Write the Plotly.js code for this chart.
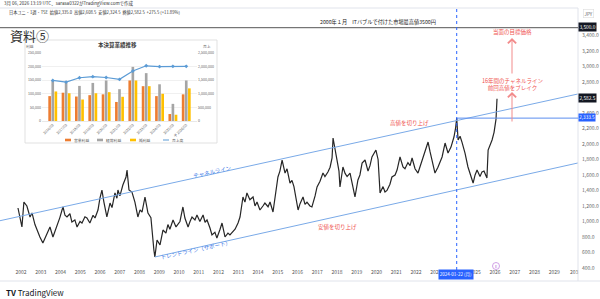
<!DOCTYPE html>
<html><head><meta charset="utf-8">
<script src="https://cdn.plot.ly/plotly-3.0.1.min.js"></script>
<style>html,body{margin:0;padding:0;background:#fff}#c{width:600px;height:299px}</style>
</head><body><div id="c"></div>
<script>
// ---- main price series (decimal year, price JPY) ----
const priceYears = [2001.85,2002.05,2002.15,2002.30,2002.46,2002.56,2002.71,2002.81,2002.96,2003.11,2003.32,2003.47,2003.62,2003.82,2003.97,2004.08,2004.13,2004.23,2004.33,2004.48,2004.58,2004.73,2004.84,2004.99,2005.09,2005.24,2005.34,2005.49,2005.65,2005.75,2005.90,2006.00,2006.10,2006.20,2006.35,2006.51,2006.61,2006.76,2006.86,2006.91,2007.01,2007.16,2007.32,2007.37,2007.47,2007.62,2007.77,2007.92,2008.03,2008.13,2008.28,2008.43,2008.58,2008.73,2008.78,2008.89,2009.04,2009.19,2009.34,2009.44,2009.54,2009.70,2009.85,2010.05,2010.20,2010.30,2010.46,2010.56,2010.66,2010.81,2010.91,2011.06,2011.22,2011.32,2011.42,2011.57,2011.67,2011.82,2011.92,2012.08,2012.18,2012.33,2012.48,2012.58,2012.73,2012.84,2012.99,2013.09,2013.24,2013.34,2013.44,2013.59,2013.75,2013.85,2013.95,2014.10,2014.25,2014.35,2014.51,2014.61,2014.76,2014.86,2015.01,2015.11,2015.22,2015.37,2015.47,2015.62,2015.72,2015.82,2015.92,2016.03,2016.13,2016.28,2016.38,2016.48,2016.63,2016.73,2016.89,2016.99,2017.14,2017.29,2017.39,2017.54,2017.65,2017.75,2017.80,2017.90,2018.00,2018.10,2018.15,2018.30,2018.41,2018.51,2018.66,2018.76,2018.91,2019.06,2019.16,2019.27,2019.42,2019.57,2019.67,2019.77,2019.87,2019.97,2020.08,2020.18,2020.33,2020.43,2020.53,2020.68,2020.78,2020.94,2021.04,2021.19,2021.34,2021.44,2021.59,2021.70,2021.80,2021.95,2022.10,2022.20,2022.30,2022.46,2022.61,2022.71,2022.81,2022.96,2023.11,2023.22,2023.32,2023.47,2023.62,2023.77,2023.92,2024.00,2024.06,2024.13,2024.23,2024.33,2024.48,2024.63,2024.73,2024.84,2024.89,2024.99,2025.09,2025.24,2025.34,2025.44,2025.59,2025.65,2025.75,2025.85,2025.95,2026.00,2026.05,2026.10];
const prices = [1174,929,1251,1200,1058,1110,960,890,800,722,851,929,800,929,1050,1148,1187,1080,1058,1100,993,1020,929,1000,980,1060,1045,980,1080,1045,1148,1300,1406,1250,1058,1238,1180,1368,1300,1406,1330,1471,1574,1664,1406,1380,1251,1058,1150,1120,1316,1109,1050,632,542,761,697,890,850,960,900,1019,930,1000,1187,1045,929,1000,1058,1020,1084,1000,1084,990,1019,916,826,860,787,900,980,800,850,826,870,900,980,1058,1316,1250,1368,1280,1316,1200,1251,1148,1200,1238,1190,1251,1122,1316,1574,1650,1793,1625,1680,1496,1530,1450,1300,1148,1230,1316,1220,1250,1200,1187,1330,1445,1520,1625,1580,1638,1700,1819,2077,1950,1793,1650,1445,1703,1620,1580,1625,1500,1316,1535,1600,1754,1793,1650,1720,1832,1880,1922,1800,1368,1450,1380,1400,1480,1574,1600,1664,1832,1703,1680,1760,1720,1819,1680,1625,1700,1780,1922,2025,1900,1793,1625,1700,1760,1832,2012,1883,1960,2090,2200,2333.5,2051,2100,2020,1883,1703,1620,1535,1496,1600,1664,1580,1640,1650,1560,1922,1980,2051,2150,2219,2320,2582.5];

// channel / trend lines (endpoints)
const channelX = [2000.94, 2030.2], channelY = [1010, 2645];
const trendX = [2008.78, 2030.2], trendY = [542, 1755];
const prevHigh = 2333.5, prevHighYear = 2024.06, bubbleHigh = 3500, lastClose = 2582.5;

const yearTicks = [2002,2003,2004,2005,2006,2007,2008,2009,2010,2011,2012,2013,2014,2015,2016,2017,2018,2019,2020,2021,2022,2023,2025,2026,2027,2028,2029,2030];
const yearLabels = ['2002','2003','2004','2005','2006','2007','2008','2009','2010','2011','2012','2013','2014','2015','2016','2017','2018','2019','2020','2021','2022','2023','2025','2026','2027','2028','2029','203'];
const priceTicks = [400,600,800,1000,1200,1400,1600,1800,2000,2200,2400,2800,3000,3200,3400];

// ---- inset (本決算業績推移) ----
const fyLabels = ['2016/03','2017/03','2018/03','2019/03','2020/03','2021/03','2022/03','2023/03','2024/03','2025/03','予 2026/03'];
const opProfit = [91500,104000,90000,95000,98000,70000,149000,128000,91500,25600,98000];
const ordProfit = [149000,140000,129000,140000,149000,117000,199000,176000,135000,63000,149000];
const netProfit = [108600,102000,79000,102000,106000,89000,149000,128000,100000,23000,120000];
const sales = [1490000,1430000,1590000,1630000,1600000,1530000,1840000,2030000,2000000,2010000,2010000];

const W=600,H=299;
const px=x=>x/W, py=y=>1-y/H;
const FONT='"Noto Sans CJK JP","Noto Sans",sans-serif';

const traces = [
 {type:'scatter',mode:'lines',x:priceYears,y:prices,line:{color:'#262626',width:1.2},xaxis:'x',yaxis:'y',showlegend:false,hoverinfo:'skip'},
 {type:'scatter',mode:'lines',x:channelX,y:channelY,line:{color:'#7aaae8',width:1},showlegend:false,hoverinfo:'skip'},
 {type:'scatter',mode:'lines',x:trendX,y:trendY,line:{color:'#7aaae8',width:1},showlegend:false,hoverinfo:'skip'},
 {type:'bar',x:fyLabels,y:opProfit,name:'営業利益',marker:{color:'#ED7D31'},xaxis:'x2',yaxis:'y2',showlegend:false},
 {type:'bar',x:fyLabels,y:ordProfit,name:'経常利益',marker:{color:'#A5A5A5'},xaxis:'x2',yaxis:'y2',showlegend:false},
 {type:'bar',x:fyLabels,y:netProfit,name:'純利益',marker:{color:'#FFC000'},xaxis:'x2',yaxis:'y2',showlegend:false},
 {type:'scatter',mode:'lines+markers',x:fyLabels,y:sales,name:'売上高',line:{color:'#5B9BD5',width:1.2},marker:{color:'#5B9BD5',size:3,symbol:'diamond'},xaxis:'x2',yaxis:'y3',showlegend:false}
];

const ann = [];
function t(x,y,text,size,color,opts){ann.push(Object.assign({xref:'paper',yref:'paper',x:px(x),y:py(y),text:text,showarrow:false,font:{size:size,color:color,family:FONT},xanchor:'center',yanchor:'middle'},opts||{}));}
t(2,4,'3月 06, 2026 13:19 UTC、sarasa0322がTradingView.comで作成',4.5,'#333',{xanchor:'left'});
t(7,13,'日本ユニ・1週・TSE  始値2,335.0  高値2,608.5  安値2,324.5  終値2,582.5  +275.5 (+11.89%)',4.2,'#333',{xanchor:'left'});
t(8,35,'資料⑤',13,'#333',{xanchor:'left'});
t(378,22,'2000年１月　ITバブルで付けた市場最高値3500円',5.2,'#222');
t(512,32,'当面の目標価格',5.5,'#ef5350');
t(513,84,'16年間のチャネルライン<br>前回高値をブレイク',5.5,'#ef5350');
t(409,123,'高値を切り上げ',5.5,'#ef5350');
t(337,227,'安値を切り上げ',5.5,'#ef5350');
t(212,172,'チャネルライン',5.5,'#3b78e7',{textangle:-12});
t(196,250,'トレンドライン（サポート）',5.5,'#3b78e7',{textangle:-12});
t(588,14,'JPY',4.5,'#555',{bordercolor:'#ddd',borderwidth:0.6,borderpad:1});
// axis price labels
t(578,27,'3,500.0',4.8,'#fff',{xanchor:'left',bgcolor:'#131722',borderpad:0.4});
t(578,98,'2,582.5',4.8,'#fff',{xanchor:'left',bgcolor:'#131722',borderpad:0.4});
t(578,118,'2,333.5',4.6,'#fff',{xanchor:'left',bgcolor:'#2962FF',borderpad:0.3});
t(456,274,'2024-01-22 (月)',4.5,'#fff',{bgcolor:'#2962FF',borderpad:0.8});
t(496,266,'E',4,'#b45fd6');
t(4,292,'<b>TV</b> TradingView',8,'#131722',{xanchor:'left'});
// inset texts
t(117,45,'<b>本決算業績推移</b>',5.5,'#404040');
t(30,46,'利益',3.8,'#666');
t(207,46,'売上',3.8,'#666');
// inset legend
const leg=[['営業利益','#ED7D31',65],['経常利益','#A5A5A5',97],['純利益','#FFC000',130],['売上高','#5B9BD5',163]];
leg.forEach(l=>t(l[2]+7,140,l[0],3.8,'#555',{xanchor:'left'}));
// arrows
ann.push({xref:'paper',yref:'paper',x:px(512),y:py(38),ax:0,ay:37,text:'',showarrow:true,arrowhead:4,arrowsize:1.6,arrowwidth:1,arrowcolor:'#f28b8b'});
ann.push({xref:'paper',yref:'paper',x:px(512),y:py(92),ax:0,ay:31,text:'',showarrow:true,arrowhead:4,arrowsize:1.6,arrowwidth:1,arrowcolor:'#f28b8b'});

const shapes = [
 {type:'rect',xref:'paper',yref:'paper',x0:px(25),x1:px(217),y0:py(143),y1:py(40),fillcolor:'#fff',line:{color:'#d9d9d9',width:0.8},layer:'below'},
 {type:'line',xref:'paper',yref:'paper',x0:0,x1:px(578),y0:py(8),y1:py(8),line:{color:'#e0e3eb',width:1}},
 {type:'line',xref:'paper',yref:'paper',x0:0,x1:px(600),y0:py(281),y1:py(281),line:{color:'#e0e3eb',width:1}},
 {type:'line',xref:'paper',yref:'paper',x0:px(578),x1:px(578),y0:py(281),y1:py(8),line:{color:'#e0e3eb',width:1}},
 {type:'line',xref:'paper',yref:'y',x0:0,x1:px(578),y0:bubbleHigh,y1:bubbleHigh,line:{color:'#555',width:1}},
 {type:'line',xref:'x',yref:'y',x0:prevHighYear,x1:2030.2,y0:prevHigh,y1:prevHigh,line:{color:'#5b8def',width:1}},
 {type:'line',xref:'x',yref:'paper',x0:prevHighYear,x1:prevHighYear,y0:py(270),y1:py(8),line:{color:'#2962FF',width:1,dash:'dot'}},
 {type:'circle',xref:'paper',yref:'paper',x0:px(492.5),x1:px(499.5),y0:py(269.5),y1:py(262.5),line:{color:'#c58ae0',width:0.8},fillcolor:'rgba(0,0,0,0)'}
];
leg.forEach((l,i)=>{
 if(i<3) shapes.push({type:'rect',xref:'paper',yref:'paper',x0:px(l[2]),x1:px(l[2]+6),y0:py(141.3),y1:py(138.7),fillcolor:l[1],line:{width:0}});
 else shapes.push({type:'line',xref:'paper',yref:'paper',x0:px(l[2]),x1:px(l[2]+6),y0:py(140),y1:py(140),line:{color:l[1],width:1}});
});

const layout = {
 width:W,height:H,margin:{l:0,r:0,t:0,b:0},paper_bgcolor:'#fff',plot_bgcolor:'rgba(0,0,0,0)',
 font:{family:FONT,color:'#555'},
 xaxis:{domain:[0,px(578)],range:[2000.94,2030.2],tickvals:yearTicks,ticktext:yearLabels,showgrid:false,zeroline:false,showline:false,ticks:'',tickfont:{size:5,color:'#555'},anchor:'y'},
 yaxis:{domain:[py(268),py(8)],range:[400,3754],side:'right',tickvals:priceTicks,tickformat:',.1f',showgrid:false,zeroline:false,showline:false,ticks:'',tickfont:{size:5,color:'#666'},ticklabelstandoff:3,anchor:'x'},
 xaxis2:{domain:[px(42),px(197)],anchor:'y2',type:'category',tickangle:-45,tickfont:{size:3.5,color:'#666'},showgrid:false,showline:true,linecolor:'#d9d9d9',linewidth:0.6,ticks:''},
 yaxis2:{domain:[py(121),py(53)],anchor:'x2',range:[0,250000],tickvals:[0,50000,100000,150000,200000,250000],tickformat:',',tickfont:{size:3.6,color:'#666'},gridcolor:'#e6e6e6',gridwidth:0.6,zeroline:false,showline:false,ticks:''},
 yaxis3:{overlaying:'y2',anchor:'x2',side:'right',range:[0,2500000],tickvals:[0,500000,1000000,1500000,2000000,2500000],tickformat:',',tickfont:{size:3.6,color:'#666'},showgrid:false,zeroline:false,showline:false,ticks:''},
 barmode:'group',bargap:0.3,bargroupgap:0.15,
 annotations:ann,shapes:shapes,showlegend:false
};
Plotly.newPlot('c',traces,layout,{staticPlot:true,displayModeBar:false});
</script></body></html>
